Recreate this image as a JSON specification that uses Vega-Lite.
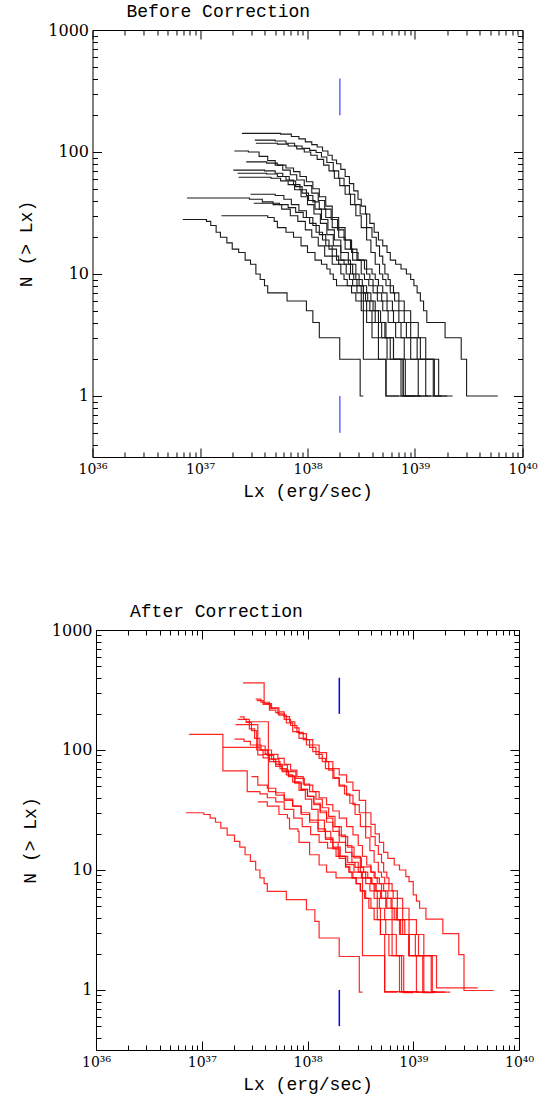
{
  "$schema": "https://vega.github.io/schema/vega-lite/v6.json",
  "background": "white",
  "padding": {"left": 17, "top": 2, "right": 10, "bottom": 0},
  "spacing": 101,
  "center": true,
  "datasets": {
    "blue": [
      {"x": 2e38, "y": 200, "y2": 400},
      {"x": 2e38, "y": 0.5, "y2": 1}
    ],
    "before": [
      {"c":"1","x":2.455e37,"y":142},{"c":"1","x":5.623e37,"y":140},{"c":"1","x":7.079e37,"y":134},{"c":"1","x":8.318e37,"y":128},{"c":"1","x":9.550e37,"y":121},{"c":"1","x":1.096e38,"y":115},{"c":"1","x":1.230e38,"y":110},{"c":"1","x":1.380e38,"y":102},{"c":"1","x":1.549e38,"y":94},{"c":"1","x":1.698e38,"y":86},{"c":"1","x":1.862e38,"y":80},{"c":"1","x":2.042e38,"y":72},{"c":"1","x":2.239e38,"y":63},{"c":"1","x":2.455e38,"y":55},{"c":"1","x":2.692e38,"y":48},{"c":"1","x":2.951e38,"y":41},{"c":"1","x":3.162e38,"y":36},{"c":"1","x":3.467e38,"y":31},{"c":"1","x":3.802e38,"y":26},{"c":"1","x":4.169e38,"y":22},{"c":"1","x":4.571e38,"y":19},{"c":"1","x":5.012e38,"y":17},{"c":"1","x":5.495e38,"y":15},{"c":"1","x":5.888e38,"y":13},{"c":"1","x":6.607e38,"y":12},{"c":"1","x":7.413e38,"y":11},{"c":"1","x":8.318e38,"y":10},{"c":"1","x":9.120e38,"y":9},{"c":"1","x":9.772e38,"y":8},{"c":"1","x":1.047e39,"y":7},{"c":"1","x":1.122e39,"y":6},{"c":"1","x":1.202e39,"y":5},{"c":"1","x":1.288e39,"y":4},{"c":"1","x":1.905e39,"y":3},{"c":"1","x":2.692e39,"y":2},{"c":"1","x":3.020e39,"y":1},{"c":"1","x":5.888e39,"y":1},
      {"c":"2","x":3.236e37,"y":125},{"c":"2","x":5.012e37,"y":123},{"c":"2","x":6.310e37,"y":118},{"c":"2","x":7.586e37,"y":112},{"c":"2","x":8.913e37,"y":107},{"c":"2","x":1.047e38,"y":103},{"c":"2","x":1.202e38,"y":99},{"c":"2","x":1.349e38,"y":91},{"c":"2","x":1.514e38,"y":82},{"c":"2","x":1.738e38,"y":70},{"c":"2","x":1.950e38,"y":61},{"c":"2","x":2.188e38,"y":53},{"c":"2","x":2.455e38,"y":45},{"c":"2","x":2.754e38,"y":37},{"c":"2","x":3.090e38,"y":31},{"c":"2","x":3.548e38,"y":24},{"c":"2","x":3.981e38,"y":20},{"c":"2","x":4.365e38,"y":17},{"c":"2","x":4.677e38,"y":14},{"c":"2","x":5.012e38,"y":12},{"c":"2","x":5.248e38,"y":10},{"c":"2","x":5.623e38,"y":9},{"c":"2","x":5.888e38,"y":8},{"c":"2","x":6.310e38,"y":7},{"c":"2","x":7.079e38,"y":6},{"c":"2","x":7.943e38,"y":5},{"c":"2","x":9.120e38,"y":4},{"c":"2","x":1.072e39,"y":3},{"c":"2","x":1.259e39,"y":2},{"c":"2","x":1.660e39,"y":1},{"c":"2","x":1.778e39,"y":1},
      {"c":"3","x":3.311e37,"y":118},{"c":"3","x":5.248e37,"y":116},{"c":"3","x":6.607e37,"y":112},{"c":"3","x":7.943e37,"y":106},{"c":"3","x":9.333e37,"y":100},{"c":"3","x":1.072e38,"y":94},{"c":"3","x":1.230e38,"y":87},{"c":"3","x":1.413e38,"y":78},{"c":"3","x":1.585e38,"y":70},{"c":"3","x":1.778e38,"y":61},{"c":"3","x":1.995e38,"y":53},{"c":"3","x":2.239e38,"y":45},{"c":"3","x":2.512e38,"y":37},{"c":"3","x":2.818e38,"y":30},{"c":"3","x":3.162e38,"y":24},{"c":"3","x":3.548e38,"y":19},{"c":"3","x":3.890e38,"y":15},{"c":"3","x":4.266e38,"y":12},{"c":"3","x":4.677e38,"y":10},{"c":"3","x":5.012e38,"y":9},{"c":"3","x":5.370e38,"y":8},{"c":"3","x":5.888e38,"y":7},{"c":"3","x":6.457e38,"y":6},{"c":"3","x":7.079e38,"y":5},{"c":"3","x":7.943e38,"y":4},{"c":"3","x":9.120e38,"y":3},{"c":"3","x":1.122e39,"y":2},{"c":"3","x":1.514e39,"y":1},{"c":"3","x":1.995e39,"y":1},
      {"c":"4","x":2.089e37,"y":102},{"c":"4","x":2.818e37,"y":100},{"c":"4","x":3.548e37,"y":92},{"c":"4","x":4.266e37,"y":85},{"c":"4","x":5.012e37,"y":78},{"c":"4","x":5.888e37,"y":71},{"c":"4","x":6.918e37,"y":65},{"c":"4","x":7.943e37,"y":59},{"c":"4","x":9.333e37,"y":53},{"c":"4","x":1.096e38,"y":46},{"c":"4","x":1.259e38,"y":40},{"c":"4","x":1.445e38,"y":34},{"c":"4","x":1.660e38,"y":28},{"c":"4","x":1.905e38,"y":23},{"c":"4","x":2.188e38,"y":19},{"c":"4","x":2.512e38,"y":16},{"c":"4","x":2.884e38,"y":13},{"c":"4","x":3.388e38,"y":11},{"c":"4","x":3.981e38,"y":10},{"c":"4","x":4.266e38,"y":9},{"c":"4","x":4.571e38,"y":8},{"c":"4","x":5.012e38,"y":7},{"c":"4","x":5.495e38,"y":6},{"c":"4","x":6.166e38,"y":5},{"c":"4","x":7.079e38,"y":4},{"c":"4","x":8.318e38,"y":3},{"c":"4","x":1.047e39,"y":2},{"c":"4","x":1.479e39,"y":1},{"c":"4","x":1.660e39,"y":1},
      {"c":"5","x":2.692e37,"y":83},{"c":"5","x":4.169e37,"y":81},{"c":"5","x":5.248e37,"y":78},{"c":"5","x":6.310e37,"y":74},{"c":"5","x":7.413e37,"y":69},{"c":"5","x":8.511e37,"y":63},{"c":"5","x":9.772e37,"y":57},{"c":"5","x":1.122e38,"y":50},{"c":"5","x":1.288e38,"y":43},{"c":"5","x":1.479e38,"y":36},{"c":"5","x":1.698e38,"y":29},{"c":"5","x":1.950e38,"y":24},{"c":"5","x":2.239e38,"y":19},{"c":"5","x":2.570e38,"y":15},{"c":"5","x":2.951e38,"y":13},{"c":"5","x":3.548e38,"y":10},{"c":"5","x":3.802e38,"y":9},{"c":"5","x":4.074e38,"y":8},{"c":"5","x":4.467e38,"y":7},{"c":"5","x":4.898e38,"y":6},{"c":"5","x":5.495e38,"y":5},{"c":"5","x":6.310e38,"y":4},{"c":"5","x":7.413e38,"y":3},{"c":"5","x":9.120e38,"y":2},{"c":"5","x":1.259e39,"y":1},{"c":"5","x":2.239e39,"y":1},
      {"c":"6","x":2.042e37,"y":71},{"c":"6","x":3.981e37,"y":70},{"c":"6","x":5.012e37,"y":67},{"c":"6","x":5.888e37,"y":63},{"c":"6","x":6.761e37,"y":58},{"c":"6","x":7.762e37,"y":52},{"c":"6","x":8.913e37,"y":46},{"c":"6","x":1.023e38,"y":40},{"c":"6","x":1.175e38,"y":34},{"c":"6","x":1.349e38,"y":28},{"c":"6","x":1.549e38,"y":23},{"c":"6","x":1.778e38,"y":19},{"c":"6","x":2.042e38,"y":15},{"c":"6","x":2.399e38,"y":12},{"c":"6","x":2.818e38,"y":10},{"c":"6","x":3.020e38,"y":9},{"c":"6","x":3.236e38,"y":8},{"c":"6","x":3.548e38,"y":7},{"c":"6","x":3.890e38,"y":6},{"c":"6","x":4.266e38,"y":5},{"c":"6","x":4.786e38,"y":4},{"c":"6","x":5.370e38,"y":3},{"c":"6","x":6.310e38,"y":2},{"c":"6","x":7.762e38,"y":1},{"c":"6","x":1.122e39,"y":1},
      {"c":"7","x":2.239e37,"y":67},{"c":"7","x":4.169e37,"y":66},{"c":"7","x":5.248e37,"y":63},{"c":"7","x":6.310e37,"y":59},{"c":"7","x":7.413e37,"y":54},{"c":"7","x":8.511e37,"y":49},{"c":"7","x":9.772e37,"y":44},{"c":"7","x":1.122e38,"y":39},{"c":"7","x":1.288e38,"y":34},{"c":"7","x":1.479e38,"y":29},{"c":"7","x":1.698e38,"y":24},{"c":"7","x":1.950e38,"y":20},{"c":"7","x":2.239e38,"y":16},{"c":"7","x":2.630e38,"y":13},{"c":"7","x":3.162e38,"y":10},{"c":"7","x":3.388e38,"y":9},{"c":"7","x":3.715e38,"y":8},{"c":"7","x":4.074e38,"y":7},{"c":"7","x":4.467e38,"y":6},{"c":"7","x":5.012e38,"y":5},{"c":"7","x":5.623e38,"y":4},{"c":"7","x":6.607e38,"y":3},{"c":"7","x":7.943e38,"y":2},{"c":"7","x":1.072e39,"y":1},{"c":"7","x":1.318e39,"y":1},
      {"c":"8","x":2.291e37,"y":62},{"c":"8","x":4.571e37,"y":61},{"c":"8","x":5.623e37,"y":58},{"c":"8","x":6.607e37,"y":54},{"c":"8","x":7.586e37,"y":49},{"c":"8","x":8.710e37,"y":43},{"c":"8","x":1.000e38,"y":37},{"c":"8","x":1.148e38,"y":31},{"c":"8","x":1.318e38,"y":26},{"c":"8","x":1.514e38,"y":21},{"c":"8","x":1.738e38,"y":17},{"c":"8","x":2.042e38,"y":13},{"c":"8","x":2.512e38,"y":10},{"c":"8","x":2.692e38,"y":9},{"c":"8","x":2.884e38,"y":8},{"c":"8","x":3.162e38,"y":7},{"c":"8","x":3.467e38,"y":6},{"c":"8","x":3.802e38,"y":5},{"c":"8","x":4.266e38,"y":4},{"c":"8","x":4.898e38,"y":3},{"c":"8","x":5.888e38,"y":2},{"c":"8","x":8.128e38,"y":1},{"c":"8","x":1.000e39,"y":1},
      {"c":"9","x":2.951e37,"y":45},{"c":"9","x":5.012e37,"y":44},{"c":"9","x":6.026e37,"y":41},{"c":"9","x":7.079e37,"y":37},{"c":"9","x":8.318e37,"y":33},{"c":"9","x":9.772e37,"y":29},{"c":"9","x":1.122e38,"y":25},{"c":"9","x":1.288e38,"y":21},{"c":"9","x":1.479e38,"y":17},{"c":"9","x":1.698e38,"y":14},{"c":"9","x":1.950e38,"y":12},{"c":"9","x":2.291e38,"y":10},{"c":"9","x":2.455e38,"y":9},{"c":"9","x":2.630e38,"y":8},{"c":"9","x":2.884e38,"y":7},{"c":"9","x":3.162e38,"y":6},{"c":"9","x":3.548e38,"y":5},{"c":"9","x":3.981e38,"y":4},{"c":"9","x":4.571e38,"y":3},{"c":"9","x":5.495e38,"y":2},{"c":"9","x":7.413e38,"y":1},{"c":"9","x":1.413e39,"y":1},
      {"c":"10","x":7.586e36,"y":42},{"c":"10","x":2.884e37,"y":41},{"c":"10","x":3.802e37,"y":39},{"c":"10","x":4.786e37,"y":37},{"c":"10","x":5.754e37,"y":34},{"c":"10","x":6.918e37,"y":30},{"c":"10","x":8.128e37,"y":27},{"c":"10","x":9.550e37,"y":23},{"c":"10","x":1.096e38,"y":20},{"c":"10","x":1.259e38,"y":17},{"c":"10","x":1.445e38,"y":14},{"c":"10","x":1.698e38,"y":12},{"c":"10","x":2.042e38,"y":10},{"c":"10","x":2.188e38,"y":9},{"c":"10","x":2.344e38,"y":8},{"c":"10","x":2.570e38,"y":7},{"c":"10","x":2.818e38,"y":6},{"c":"10","x":3.162e38,"y":5},{"c":"10","x":3.548e38,"y":4},{"c":"10","x":3.981e38,"y":3},{"c":"10","x":4.571e38,"y":2},{"c":"10","x":5.370e38,"y":1},{"c":"10","x":8.913e38,"y":1},
      {"c":"11","x":3.162e37,"y":38},{"c":"11","x":5.495e37,"y":37},{"c":"11","x":6.607e37,"y":35},{"c":"11","x":7.762e37,"y":32},{"c":"11","x":9.120e37,"y":29},{"c":"11","x":1.047e38,"y":26},{"c":"11","x":1.202e38,"y":22},{"c":"11","x":1.380e38,"y":19},{"c":"11","x":1.585e38,"y":16},{"c":"11","x":1.862e38,"y":13},{"c":"11","x":2.188e38,"y":12},{"c":"11","x":2.630e38,"y":10},{"c":"11","x":2.818e38,"y":9},{"c":"11","x":3.020e38,"y":8},{"c":"11","x":3.311e38,"y":7},{"c":"11","x":3.631e38,"y":6},{"c":"11","x":4.074e38,"y":5},{"c":"11","x":4.571e38,"y":4},{"c":"11","x":5.248e38,"y":3},{"c":"11","x":6.310e38,"y":2},{"c":"11","x":7.762e38,"y":1},{"c":"11","x":1.122e39,"y":1},
      {"c":"12","x":1.585e37,"y":30},{"c":"12","x":4.266e37,"y":29},{"c":"12","x":4.898e37,"y":27},{"c":"12","x":5.248e37,"y":24},{"c":"12","x":6.310e37,"y":22},{"c":"12","x":7.413e37,"y":20},{"c":"12","x":8.710e37,"y":17},{"c":"12","x":1.000e38,"y":15},{"c":"12","x":1.175e38,"y":13},{"c":"12","x":1.349e38,"y":12},{"c":"12","x":1.514e38,"y":11},{"c":"12","x":1.622e38,"y":10},{"c":"12","x":1.738e38,"y":9},{"c":"12","x":1.862e38,"y":8},{"c":"12","x":3.311e38,"y":2},{"c":"12","x":5.370e38,"y":1},{"c":"12","x":7.079e38,"y":1},
      {"c":"13","x":6.918e36,"y":28},{"c":"13","x":1.148e37,"y":27},{"c":"13","x":1.259e37,"y":25},{"c":"13","x":1.413e37,"y":22},{"c":"13","x":1.549e37,"y":20},{"c":"13","x":1.778e37,"y":18},{"c":"13","x":1.995e37,"y":16},{"c":"13","x":2.291e37,"y":15},{"c":"13","x":2.630e37,"y":13},{"c":"13","x":2.951e37,"y":12},{"c":"13","x":3.311e37,"y":10},{"c":"13","x":3.631e37,"y":9},{"c":"13","x":3.981e37,"y":8},{"c":"13","x":4.266e37,"y":7},{"c":"13","x":6.457e37,"y":6},{"c":"13","x":9.772e37,"y":5},{"c":"13","x":1.122e38,"y":4},{"c":"13","x":1.288e38,"y":3},{"c":"13","x":1.995e38,"y":2},{"c":"13","x":3.090e38,"y":1},{"c":"13","x":3.311e38,"y":1}
    ],
    "after": [
      {"c":"1","x":2.455e37,"y":363},{"c":"1","x":3.890e37,"y":244},{"c":"1","x":4.571e37,"y":225},{"c":"1","x":5.370e37,"y":208},{"c":"1","x":6.026e37,"y":190},{"c":"1","x":6.761e37,"y":172},{"c":"1","x":7.586e37,"y":153},{"c":"1","x":8.318e37,"y":137},{"c":"1","x":9.772e37,"y":122},{"c":"1","x":1.122e38,"y":110},{"c":"1","x":1.288e38,"y":95},{"c":"1","x":1.514e38,"y":80},{"c":"1","x":1.738e38,"y":70},{"c":"1","x":1.995e38,"y":62},{"c":"1","x":2.344e38,"y":54},{"c":"1","x":2.692e38,"y":46},{"c":"1","x":3.090e38,"y":38},{"c":"1","x":3.548e38,"y":30},{"c":"1","x":3.981e38,"y":24},{"c":"1","x":4.365e38,"y":20},{"c":"1","x":4.786e38,"y":17},{"c":"1","x":5.248e38,"y":14},{"c":"1","x":5.754e38,"y":12.5},{"c":"1","x":6.607e38,"y":11},{"c":"1","x":7.413e38,"y":10},{"c":"1","x":8.511e38,"y":8.8},{"c":"1","x":9.120e38,"y":8},{"c":"1","x":1.000e39,"y":6.2},{"c":"1","x":1.072e39,"y":5.5},{"c":"1","x":1.148e39,"y":4.8},{"c":"1","x":1.318e39,"y":3.9},{"c":"1","x":1.905e39,"y":2.95},{"c":"1","x":2.692e39,"y":1.97},{"c":"1","x":3.020e39,"y":0.99},{"c":"1","x":5.754e39,"y":0.99},
      {"c":"2","x":3.236e37,"y":265},{"c":"2","x":3.631e37,"y":250},{"c":"2","x":4.365e37,"y":215},{"c":"2","x":5.012e37,"y":205},{"c":"2","x":5.370e37,"y":195},{"c":"2","x":6.310e37,"y":168},{"c":"2","x":7.244e37,"y":142},{"c":"2","x":8.318e37,"y":125},{"c":"2","x":9.772e37,"y":110},{"c":"2","x":1.122e38,"y":97},{"c":"2","x":1.288e38,"y":85},{"c":"2","x":1.479e38,"y":70},{"c":"2","x":1.738e38,"y":58},{"c":"2","x":1.995e38,"y":50},{"c":"2","x":2.344e38,"y":42},{"c":"2","x":2.692e38,"y":35},{"c":"2","x":3.090e38,"y":30},{"c":"2","x":3.548e38,"y":23},{"c":"2","x":3.981e38,"y":19},{"c":"2","x":4.365e38,"y":16},{"c":"2","x":4.677e38,"y":13.5},{"c":"2","x":5.012e38,"y":11.5},{"c":"2","x":5.248e38,"y":9.6},{"c":"2","x":5.623e38,"y":8.6},{"c":"2","x":5.888e38,"y":7.7},{"c":"2","x":6.310e38,"y":6.7},{"c":"2","x":7.079e38,"y":5.8},{"c":"2","x":7.943e38,"y":4.8},{"c":"2","x":9.120e38,"y":3.85},{"c":"2","x":1.072e39,"y":2.9},{"c":"2","x":1.259e39,"y":1.93},{"c":"2","x":1.660e39,"y":1.04},{"c":"2","x":4.074e39,"y":1.04},
      {"c":"3","x":3.311e37,"y":258},{"c":"3","x":3.802e37,"y":240},{"c":"3","x":4.467e37,"y":222},{"c":"3","x":5.248e37,"y":200},{"c":"3","x":6.026e37,"y":180},{"c":"3","x":6.918e37,"y":160},{"c":"3","x":7.943e37,"y":140},{"c":"3","x":9.120e37,"y":122},{"c":"3","x":1.047e38,"y":105},{"c":"3","x":1.202e38,"y":92},{"c":"3","x":1.380e38,"y":80},{"c":"3","x":1.585e38,"y":68},{"c":"3","x":1.778e38,"y":59},{"c":"3","x":1.995e38,"y":51},{"c":"3","x":2.239e38,"y":43},{"c":"3","x":2.512e38,"y":36},{"c":"3","x":2.818e38,"y":29},{"c":"3","x":3.162e38,"y":23},{"c":"3","x":3.548e38,"y":18.5},{"c":"3","x":3.890e38,"y":14.5},{"c":"3","x":4.266e38,"y":11.6},{"c":"3","x":4.677e38,"y":9.6},{"c":"3","x":5.012e38,"y":8.7},{"c":"3","x":5.370e38,"y":7.7},{"c":"3","x":5.888e38,"y":6.7},{"c":"3","x":6.457e38,"y":5.8},{"c":"3","x":7.079e38,"y":4.8},{"c":"3","x":7.943e38,"y":3.85},{"c":"3","x":9.120e38,"y":2.9},{"c":"3","x":1.122e39,"y":1.93},{"c":"3","x":1.514e39,"y":0.96},{"c":"3","x":1.995e39,"y":0.96},
      {"c":"4","x":2.291e37,"y":189},{"c":"4","x":2.512e37,"y":180},{"c":"4","x":2.818e37,"y":150},{"c":"4","x":3.162e37,"y":125},{"c":"4","x":3.548e37,"y":108},{"c":"4","x":3.981e37,"y":100},{"c":"4","x":4.571e37,"y":92},{"c":"4","x":5.248e37,"y":85},{"c":"4","x":6.026e37,"y":76},{"c":"4","x":6.918e37,"y":68},{"c":"4","x":7.943e37,"y":60},{"c":"4","x":9.120e37,"y":52},{"c":"4","x":1.047e38,"y":45},{"c":"4","x":1.202e38,"y":39},{"c":"4","x":1.380e38,"y":33},{"c":"4","x":1.585e38,"y":28},{"c":"4","x":1.820e38,"y":23},{"c":"4","x":2.089e38,"y":19},{"c":"4","x":2.399e38,"y":15.5},{"c":"4","x":2.754e38,"y":12.6},{"c":"4","x":3.236e38,"y":10.6},{"c":"4","x":3.981e38,"y":9.6},{"c":"4","x":4.266e38,"y":8.6},{"c":"4","x":4.571e38,"y":7.7},{"c":"4","x":5.012e38,"y":6.7},{"c":"4","x":5.495e38,"y":5.8},{"c":"4","x":6.166e38,"y":4.8},{"c":"4","x":7.079e38,"y":3.85},{"c":"4","x":8.318e38,"y":2.9},{"c":"4","x":1.047e39,"y":1.93},{"c":"4","x":1.479e39,"y":0.97},{"c":"4","x":1.660e39,"y":0.97},
      {"c":"5","x":2.630e37,"y":172},{"c":"5","x":4.266e37,"y":45},{"c":"5","x":5.012e37,"y":42},{"c":"5","x":6.026e37,"y":38},{"c":"5","x":7.244e37,"y":34},{"c":"5","x":8.710e37,"y":30},{"c":"5","x":1.047e38,"y":26},{"c":"5","x":1.259e38,"y":22},{"c":"5","x":1.479e38,"y":18.5},{"c":"5","x":1.738e38,"y":15.5},{"c":"5","x":2.042e38,"y":13},{"c":"5","x":2.399e38,"y":11.5},{"c":"5","x":2.818e38,"y":10.5},{"c":"5","x":3.162e38,"y":9.6},{"c":"5","x":3.548e38,"y":8.6},{"c":"5","x":3.981e38,"y":7.7},{"c":"5","x":4.365e38,"y":6.7},{"c":"5","x":4.898e38,"y":5.8},{"c":"5","x":5.495e38,"y":4.8},{"c":"5","x":6.310e38,"y":3.85},{"c":"5","x":7.413e38,"y":2.9},{"c":"5","x":9.120e38,"y":1.93},{"c":"5","x":1.259e39,"y":0.96},{"c":"5","x":2.239e39,"y":0.96},
      {"c":"6","x":2.089e37,"y":163},{"c":"6","x":3.388e37,"y":91},{"c":"6","x":3.802e37,"y":86},{"c":"6","x":4.365e37,"y":80},{"c":"6","x":5.012e37,"y":73},{"c":"6","x":5.754e37,"y":66},{"c":"6","x":6.607e37,"y":60},{"c":"6","x":7.586e37,"y":53},{"c":"6","x":8.710e37,"y":47},{"c":"6","x":1.000e38,"y":41},{"c":"6","x":1.148e38,"y":35},{"c":"6","x":1.318e38,"y":30},{"c":"6","x":1.514e38,"y":25},{"c":"6","x":1.738e38,"y":21},{"c":"6","x":1.995e38,"y":17},{"c":"6","x":2.291e38,"y":14},{"c":"6","x":2.630e38,"y":11.6},{"c":"6","x":3.020e38,"y":9.6},{"c":"6","x":3.236e38,"y":8.6},{"c":"6","x":3.548e38,"y":7.7},{"c":"6","x":3.890e38,"y":6.7},{"c":"6","x":4.266e38,"y":5.8},{"c":"6","x":4.786e38,"y":4.8},{"c":"6","x":5.370e38,"y":3.85},{"c":"6","x":6.310e38,"y":2.9},{"c":"6","x":6.918e38,"y":1.93},{"c":"6","x":7.762e38,"y":0.97},{"c":"6","x":1.122e39,"y":0.97},
      {"c":"7","x":2.042e37,"y":123},{"c":"7","x":2.512e37,"y":118},{"c":"7","x":2.884e37,"y":110},{"c":"7","x":3.311e37,"y":100},{"c":"7","x":3.802e37,"y":92},{"c":"7","x":4.365e37,"y":84},{"c":"7","x":5.012e37,"y":76},{"c":"7","x":5.754e37,"y":68},{"c":"7","x":6.607e37,"y":61},{"c":"7","x":7.586e37,"y":54},{"c":"7","x":8.710e37,"y":47},{"c":"7","x":1.000e38,"y":41},{"c":"7","x":1.148e38,"y":36},{"c":"7","x":1.318e38,"y":31},{"c":"7","x":1.514e38,"y":27},{"c":"7","x":1.738e38,"y":23},{"c":"7","x":1.995e38,"y":19.5},{"c":"7","x":2.291e38,"y":16},{"c":"7","x":2.630e38,"y":13},{"c":"7","x":3.162e38,"y":10.5},{"c":"7","x":3.388e38,"y":9.6},{"c":"7","x":3.715e38,"y":8.6},{"c":"7","x":4.074e38,"y":7.7},{"c":"7","x":4.467e38,"y":6.7},{"c":"7","x":5.012e38,"y":5.8},{"c":"7","x":5.623e38,"y":4.8},{"c":"7","x":6.607e38,"y":3.85},{"c":"7","x":7.943e38,"y":2.9},{"c":"7","x":9.120e38,"y":1.93},{"c":"7","x":1.072e39,"y":0.96},{"c":"7","x":1.318e39,"y":0.96},
      {"c":"8","x":2.188e37,"y":180},{"c":"8","x":2.630e37,"y":170},{"c":"8","x":2.951e37,"y":145},{"c":"8","x":3.311e37,"y":110},{"c":"8","x":3.631e37,"y":100},{"c":"8","x":4.169e37,"y":90},{"c":"8","x":4.786e37,"y":80},{"c":"8","x":5.495e37,"y":70},{"c":"8","x":6.310e37,"y":62},{"c":"8","x":7.244e37,"y":54},{"c":"8","x":8.318e37,"y":46},{"c":"8","x":9.550e37,"y":39},{"c":"8","x":1.096e38,"y":32},{"c":"8","x":1.259e38,"y":26},{"c":"8","x":1.445e38,"y":21},{"c":"8","x":1.660e38,"y":17},{"c":"8","x":1.950e38,"y":13},{"c":"8","x":2.291e38,"y":10.6},{"c":"8","x":2.512e38,"y":9.6},{"c":"8","x":2.692e38,"y":8.6},{"c":"8","x":2.884e38,"y":7.7},{"c":"8","x":3.162e38,"y":6.7},{"c":"8","x":3.467e38,"y":5.8},{"c":"8","x":3.802e38,"y":4.8},{"c":"8","x":4.266e38,"y":3.85},{"c":"8","x":4.898e38,"y":2.9},{"c":"8","x":5.888e38,"y":1.93},{"c":"8","x":8.128e38,"y":0.95},{"c":"8","x":1.000e39,"y":0.95},
      {"c":"9","x":2.951e37,"y":60},{"c":"9","x":3.388e37,"y":51},{"c":"9","x":4.169e37,"y":48},{"c":"9","x":5.012e37,"y":44},{"c":"9","x":6.026e37,"y":39},{"c":"9","x":7.244e37,"y":34},{"c":"9","x":8.710e37,"y":29},{"c":"9","x":1.047e38,"y":25},{"c":"9","x":1.259e38,"y":21},{"c":"9","x":1.479e38,"y":18},{"c":"9","x":1.738e38,"y":15},{"c":"9","x":1.995e38,"y":12.5},{"c":"9","x":2.291e38,"y":10.6},{"c":"9","x":2.455e38,"y":9.6},{"c":"9","x":2.630e38,"y":8.6},{"c":"9","x":2.884e38,"y":7.7},{"c":"9","x":3.162e38,"y":6.7},{"c":"9","x":3.548e38,"y":5.8},{"c":"9","x":3.981e38,"y":4.8},{"c":"9","x":4.571e38,"y":3.85},{"c":"9","x":5.495e38,"y":2.9},{"c":"9","x":6.310e38,"y":1.93},{"c":"9","x":7.413e38,"y":0.96},{"c":"9","x":1.413e39,"y":0.96},
      {"c":"10","x":7.586e36,"y":135},{"c":"10","x":1.585e37,"y":67},{"c":"10","x":2.692e37,"y":45},{"c":"10","x":3.548e37,"y":43},{"c":"10","x":4.169e37,"y":40},{"c":"10","x":5.012e37,"y":37},{"c":"10","x":6.026e37,"y":32},{"c":"10","x":7.413e37,"y":27},{"c":"10","x":8.913e37,"y":23},{"c":"10","x":1.072e38,"y":19.7},{"c":"10","x":1.288e38,"y":17},{"c":"10","x":1.549e38,"y":15.2},{"c":"10","x":1.862e38,"y":13},{"c":"10","x":2.291e38,"y":11.1},{"c":"10","x":2.754e38,"y":9.6},{"c":"10","x":3.311e38,"y":8.6},{"c":"10","x":3.981e38,"y":7.7},{"c":"10","x":4.266e38,"y":6.7},{"c":"10","x":4.571e38,"y":4.8},{"c":"10","x":4.898e38,"y":2.9},{"c":"10","x":5.370e38,"y":0.97},{"c":"10","x":8.913e38,"y":0.97},
      {"c":"11","x":3.388e37,"y":37},{"c":"11","x":4.169e37,"y":34},{"c":"11","x":5.370e37,"y":29},{"c":"11","x":6.457e37,"y":27},{"c":"11","x":6.761e37,"y":22},{"c":"11","x":8.128e37,"y":21},{"c":"11","x":8.318e37,"y":17},{"c":"11","x":1.047e38,"y":13.4},{"c":"11","x":1.288e38,"y":11},{"c":"11","x":1.514e38,"y":9.6},{"c":"11","x":1.862e38,"y":8.6},{"c":"11","x":3.311e38,"y":1.93},{"c":"11","x":5.370e38,"y":0.96},{"c":"11","x":7.079e38,"y":0.96},
      {"c":"12","x":1.585e37,"y":105},{"c":"12","x":3.548e37,"y":100},{"c":"12","x":3.981e37,"y":92},{"c":"12","x":4.571e37,"y":84},{"c":"12","x":5.370e37,"y":75},{"c":"12","x":6.457e37,"y":66},{"c":"12","x":7.762e37,"y":58},{"c":"12","x":9.333e37,"y":51},{"c":"12","x":1.122e38,"y":45},{"c":"12","x":1.288e38,"y":40},{"c":"12","x":1.514e38,"y":35},{"c":"12","x":1.738e38,"y":31},{"c":"12","x":1.995e38,"y":27},{"c":"12","x":2.344e38,"y":23},{"c":"12","x":2.692e38,"y":19.6},{"c":"12","x":3.020e38,"y":16},{"c":"12","x":3.311e38,"y":13},{"c":"12","x":3.631e38,"y":11},{"c":"12","x":3.981e38,"y":9.6},{"c":"12","x":4.365e38,"y":8.6},{"c":"12","x":4.786e38,"y":7.7},{"c":"12","x":5.248e38,"y":6.7},{"c":"12","x":5.754e38,"y":5.8},{"c":"12","x":6.310e38,"y":4.8},{"c":"12","x":6.918e38,"y":3.85},{"c":"12","x":7.586e38,"y":2.9},{"c":"12","x":9.120e38,"y":1.93},{"c":"12","x":1.230e39,"y":0.95},{"c":"12","x":1.585e39,"y":0.95},
      {"c":"13","x":7.079e36,"y":30},{"c":"13","x":1.047e37,"y":29},{"c":"13","x":1.202e37,"y":27},{"c":"13","x":1.349e37,"y":25},{"c":"13","x":1.514e37,"y":22.3},{"c":"13","x":1.738e37,"y":19.5},{"c":"13","x":2.042e37,"y":17.3},{"c":"13","x":2.291e37,"y":15.5},{"c":"13","x":2.570e37,"y":13.4},{"c":"13","x":2.884e37,"y":11.8},{"c":"13","x":3.236e37,"y":10},{"c":"13","x":3.548e37,"y":8.6},{"c":"13","x":3.890e37,"y":7.7},{"c":"13","x":4.169e37,"y":6.64},{"c":"13","x":6.310e37,"y":5.66},{"c":"13","x":9.772e37,"y":4.66},{"c":"13","x":1.175e38,"y":3.73},{"c":"13","x":1.288e38,"y":2.71},{"c":"13","x":1.995e38,"y":1.9},{"c":"13","x":3.090e38,"y":0.96},{"c":"13","x":3.311e38,"y":0.96}
    ]
  },
  "vconcat": [
    {
      "width": 430,
      "height": 427,
      "title": {"text": "Before Correction", "anchor": "start", "frame": "group", "dx": 34, "offset": 1},
      "layer": [
        {
          "data": {"name": "before"},
          "mark": {"type": "line", "interpolate": "step-after", "color": "#1a1a1a", "strokeWidth": 1.1},
          "encoding": {
            "x": {"field": "x", "type": "quantitative", "scale": {"type": "log", "domain": [1e36, 1e40], "nice": false},
              "axis": {"orient": "bottom", "values": [1e36,2e36,3e36,4e36,5e36,6e36,7e36,8e36,9e36,1e37,2e37,3e37,4e37,5e37,6e37,7e37,8e37,9e37,1e38,2e38,3e38,4e38,5e38,6e38,7e38,8e38,9e38,1e39,2e39,3e39,4e39,5e39,6e39,7e39,8e39,9e39,1e40],
                "tickSize": {"condition": {"test": "abs(log(datum.value)/LN10 - round(log(datum.value)/LN10)) < 0.001", "value": -9}, "value": -5},
                "labelExpr": "abs(log(datum.value)/LN10 - round(log(datum.value)/LN10)) < 0.001 ? '10' + ['³⁶','³⁷','³⁸','³⁹','⁴⁰'][round(log(datum.value)/LN10) - 36] : ''",
                "labelFont": "DejaVu Serif", "labelFontSize": 14, "labelPadding": 14, "title": "Lx (erg/sec)", "titlePadding": 2}},
            "y": {"field": "y", "type": "quantitative", "scale": {"type": "log", "domain": [0.316, 1000], "nice": false},
              "axis": {"orient": "left", "values": [0.4,0.5,0.6,0.7,0.8,0.9,1,2,3,4,5,6,7,8,9,10,20,30,40,50,60,70,80,90,100,200,300,400,500,600,700,800,900,1000],
                "tickSize": {"condition": {"test": "abs(log(datum.value)/LN10 - round(log(datum.value)/LN10)) < 0.001", "value": -9}, "value": -5},
                "labelExpr": "abs(log(datum.value)/LN10 - round(log(datum.value)/LN10)) < 0.001 ? format(datum.value, 'd') : ''",
                "labelFont": "DejaVu Serif", "labelFontSize": 16, "labelPadding": 13, "title": "N (> Lx)", "titlePadding": 12}},
            "detail": {"field": "c", "type": "nominal"}
          }
        },
        {
          "data": {"name": "blue"},
          "mark": {"type": "rule", "color": "#6464ff", "strokeWidth": 1.5},
          "encoding": {
            "x": {"field": "x", "type": "quantitative",
              "axis": {"orient": "top", "values": [1e36,2e36,3e36,4e36,5e36,6e36,7e36,8e36,9e36,1e37,2e37,3e37,4e37,5e37,6e37,7e37,8e37,9e37,1e38,2e38,3e38,4e38,5e38,6e38,7e38,8e38,9e38,1e39,2e39,3e39,4e39,5e39,6e39,7e39,8e39,9e39,1e40],
                "tickSize": {"condition": {"test": "abs(log(datum.value)/LN10 - round(log(datum.value)/LN10)) < 0.001", "value": -9}, "value": -5},
                "labels": false, "title": null}},
            "y": {"field": "y", "type": "quantitative",
              "axis": {"orient": "right", "values": [0.4,0.5,0.6,0.7,0.8,0.9,1,2,3,4,5,6,7,8,9,10,20,30,40,50,60,70,80,90,100,200,300,400,500,600,700,800,900,1000],
                "tickSize": {"condition": {"test": "abs(log(datum.value)/LN10 - round(log(datum.value)/LN10)) < 0.001", "value": -9}, "value": -5},
                "labels": false, "title": null}},
            "y2": {"field": "y2"}
          }
        }
      ],
      "resolve": {"axis": {"x": "independent", "y": "independent"}}
    },
    {
      "width": 423,
      "height": 420,
      "title": {"text": "After Correction", "anchor": "start", "frame": "group", "dx": 34, "offset": 1},
      "layer": [
        {
          "data": {"name": "after"},
          "mark": {"type": "line", "interpolate": "step-after", "color": "#ff0000", "strokeWidth": 1.2, "opacity": 0.85},
          "encoding": {
            "x": {"field": "x", "type": "quantitative", "scale": {"type": "log", "domain": [1e36, 1e40], "nice": false},
              "axis": {"orient": "bottom", "values": [1e36,2e36,3e36,4e36,5e36,6e36,7e36,8e36,9e36,1e37,2e37,3e37,4e37,5e37,6e37,7e37,8e37,9e37,1e38,2e38,3e38,4e38,5e38,6e38,7e38,8e38,9e38,1e39,2e39,3e39,4e39,5e39,6e39,7e39,8e39,9e39,1e40],
                "tickSize": {"condition": {"test": "abs(log(datum.value)/LN10 - round(log(datum.value)/LN10)) < 0.001", "value": -9}, "value": -5},
                "labelExpr": "abs(log(datum.value)/LN10 - round(log(datum.value)/LN10)) < 0.001 ? '10' + ['³⁶','³⁷','³⁸','³⁹','⁴⁰'][round(log(datum.value)/LN10) - 36] : ''",
                "labelFont": "DejaVu Serif", "labelFontSize": 14, "labelPadding": 14, "title": "Lx (erg/sec)", "titlePadding": 2}},
            "y": {"field": "y", "type": "quantitative", "scale": {"type": "log", "domain": [0.316, 1000], "nice": false},
              "axis": {"orient": "left", "values": [0.4,0.5,0.6,0.7,0.8,0.9,1,2,3,4,5,6,7,8,9,10,20,30,40,50,60,70,80,90,100,200,300,400,500,600,700,800,900,1000],
                "tickSize": {"condition": {"test": "abs(log(datum.value)/LN10 - round(log(datum.value)/LN10)) < 0.001", "value": -9}, "value": -5},
                "labelExpr": "abs(log(datum.value)/LN10 - round(log(datum.value)/LN10)) < 0.001 ? format(datum.value, 'd') : ''",
                "labelFont": "DejaVu Serif", "labelFontSize": 16, "labelPadding": 13, "title": "N (> Lx)", "titlePadding": 12}},
            "detail": {"field": "c", "type": "nominal"}
          }
        },
        {
          "data": {"name": "blue"},
          "mark": {"type": "rule", "color": "#0000ff", "strokeWidth": 1.5},
          "encoding": {
            "x": {"field": "x", "type": "quantitative",
              "axis": {"orient": "top", "values": [1e36,2e36,3e36,4e36,5e36,6e36,7e36,8e36,9e36,1e37,2e37,3e37,4e37,5e37,6e37,7e37,8e37,9e37,1e38,2e38,3e38,4e38,5e38,6e38,7e38,8e38,9e38,1e39,2e39,3e39,4e39,5e39,6e39,7e39,8e39,9e39,1e40],
                "tickSize": {"condition": {"test": "abs(log(datum.value)/LN10 - round(log(datum.value)/LN10)) < 0.001", "value": -9}, "value": -5},
                "labels": false, "title": null}},
            "y": {"field": "y", "type": "quantitative",
              "axis": {"orient": "right", "values": [0.4,0.5,0.6,0.7,0.8,0.9,1,2,3,4,5,6,7,8,9,10,20,30,40,50,60,70,80,90,100,200,300,400,500,600,700,800,900,1000],
                "tickSize": {"condition": {"test": "abs(log(datum.value)/LN10 - round(log(datum.value)/LN10)) < 0.001", "value": -9}, "value": -5},
                "labels": false, "title": null}},
            "y2": {"field": "y2"}
          }
        }
      ],
      "resolve": {"axis": {"x": "independent", "y": "independent"}}
    }
  ],
  "config": {
    "view": {"stroke": "#000", "strokeWidth": 1},
    "axis": {"grid": false, "domain": false, "tickColor": "#000", "tickWidth": 1, "labelColor": "#000", "titleColor": "#000", "labelOverlap": false, "labelFlush": false, "titleFont": "Liberation Mono", "titleFontSize": 18, "titleFontWeight": "normal"},
    "title": {"font": "Liberation Mono", "fontSize": 18, "fontWeight": "normal", "color": "#000"}
  }
}
